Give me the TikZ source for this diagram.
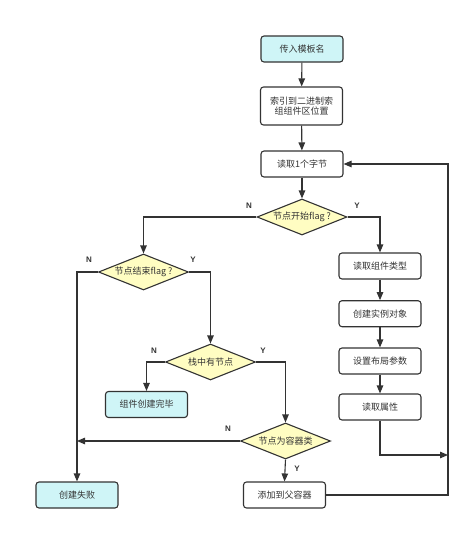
\documentclass[tikz,border=0pt]{standalone}
\usepackage{fontspec}
\setmainfont{Noto Sans CJK SC}
\newfontfamily\labfont{Liberation Sans}
\usetikzlibrary{shapes.geometric,arrows.meta}
\definecolor{cyanf}{HTML}{CFF5F7}
\definecolor{yelf}{HTML}{FFFDC2}
\definecolor{edge}{HTML}{333333}
\definecolor{txtc}{HTML}{333333}
\tikzset{
  base/.style={draw=edge,line width=1.1pt,font=\fontsize{9}{10}\selectfont,text=txtc,inner sep=0pt},
  proc/.style={base,rectangle,rounded corners=3pt,fill=white,minimum width=82pt,minimum height=26pt},
  term/.style={proc,fill=cyanf},
  dia/.style={base,diamond,fill=yelf,aspect=2.5,minimum width=90pt,minimum height=36pt},
  arr/.style={draw=edge,line width=1.1pt,-{Triangle[length=8pt,width=6.5pt]}},
  ln/.style={draw=edge,line width=1.1pt},
  yn/.style={font=\labfont\bfseries\fontsize{8}{9}\selectfont,text=txtc,inner sep=0pt}
}
\begin{document}
\begin{tikzpicture}[x=1pt,y=-1pt]
\useasboundingbox (0,0) rectangle (473,533);
\node[term] (b1) at (302,49) {传入模板名};
\node[proc,minimum height=38pt,align=center] (b2) at (301.5,106) {索引到二进制索\\组组件区位置};
\node[proc] (b3) at (302,164) {读取1个字节};
\node[dia] (d1) at (302,217) {};
\node[font=\fontsize{9}{10}\selectfont,text=txtc] (t1) at (d1.center) {节点开始flag ?};
\node[dia] (d2) at (143.5,272) {};
\node[font=\fontsize{9}{10}\selectfont,text=txtc] (t2) at (d2.center) {节点结束flag ?};
\node[dia] (d3) at (210.5,362) {};
\node[font=\fontsize{9}{10}\selectfont,text=txtc] (t3) at (d3.center) {栈中有节点};
\node[dia] (d4) at (285.5,441) {};
\node[font=\fontsize{9}{10}\selectfont,text=txtc] (t4) at (d4.center) {节点为容器类};
\node[proc] (r1) at (380,266) {读取组件类型};
\node[proc] (r2) at (380,313.7) {创建实例对象};
\node[proc] (r3) at (380,361) {设置布局参数};
\node[proc] (r4) at (380,407) {读取属性};
\node[term] (done) at (146.5,404.5) {组件创建完毕};
\node[term] (fail) at (77,495) {创建失败};
\node[proc] (add) at (284.5,495) {添加到父容器};
\coordinate (cr) at (448,455);
\coordinate (ctop) at (448,164);
% arrows
\draw[arr] (b1) -- (b2);
\draw[arr] (b2) -- (b3);
\draw[arr] (b3) -- (d1);
\draw[arr] (d1.west) -| (d2.north);
\draw[arr] (d1.east) -| (r1.north);
\draw[arr] (d2.west) -| (fail.north);
\draw[arr] (d2.east) -| (d3.north);
\draw[arr] (d3.west) -| (done.north);
\draw[arr] (d3.east) -| (d4.north);
\draw[arr] (d4.west) -- (fail.north |- d4.west);
\draw[arr] (d4.south) -- (add.north);
\draw[arr] (r1) -- (r2);
\draw[arr] (r2) -- (r3);
\draw[arr] (r3) -- (r4);
\draw[arr] (r4.south) |- (cr);
\draw[arr] (add.east) -| (ctop) -- (b3.east);
% labels
\node[yn] (n1) at (249,206) {N};
\node[yn] (y1) at (357,206) {Y};
\node[yn] (n2) at (89,260) {N};
\node[yn] (y2) at (193,260) {Y};
\node[yn] (n3) at (154,351) {N};
\node[yn] (y3) at (263,351) {Y};
\node[yn] (n4) at (228,429) {N};
\node[yn] (y4) at (297,469) {Y};
\end{tikzpicture}
\end{document}
